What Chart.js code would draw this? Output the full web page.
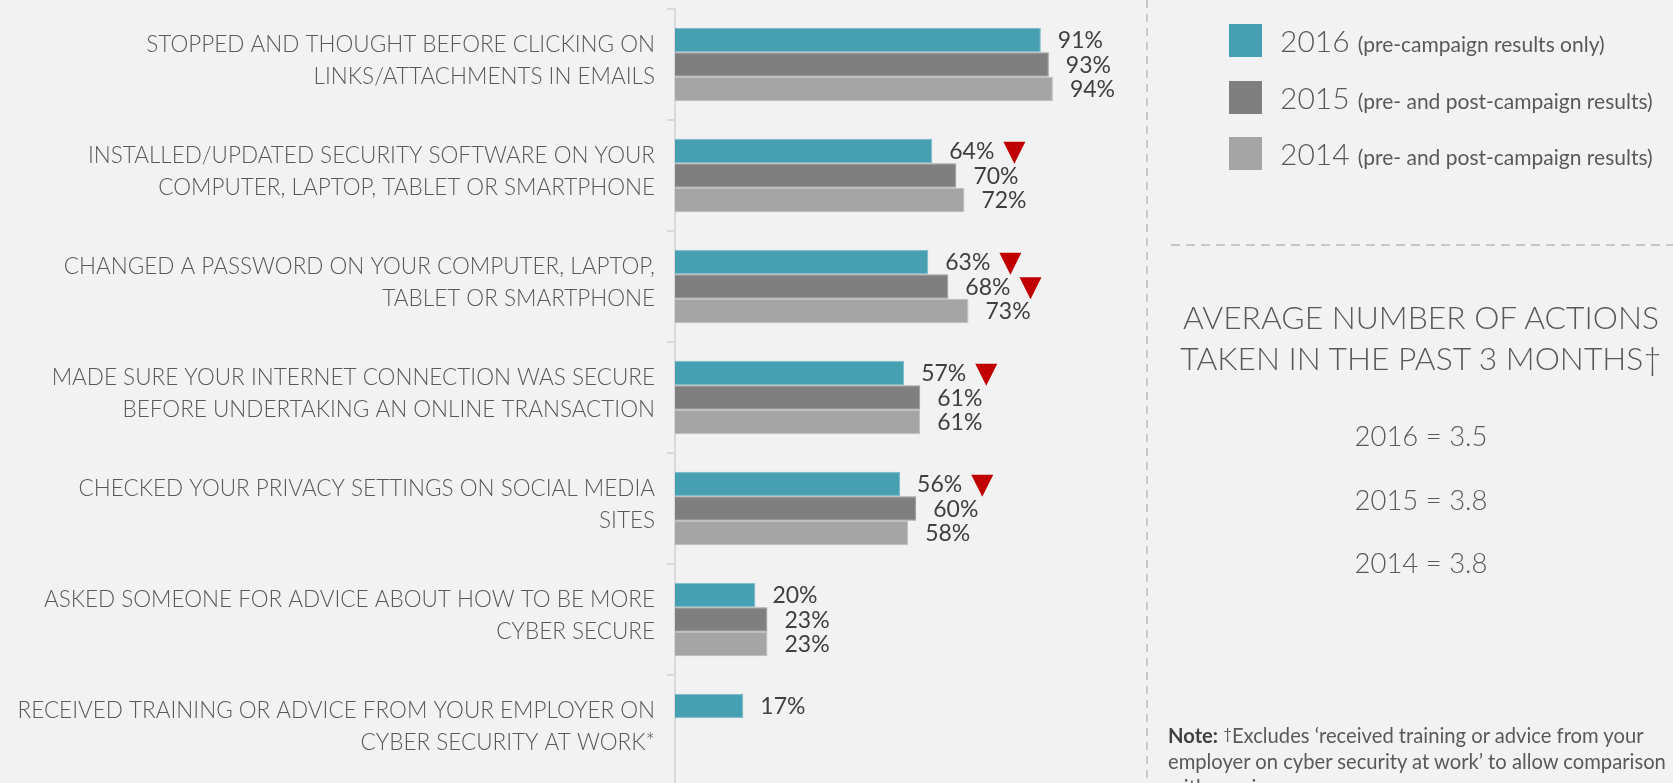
<!DOCTYPE html>
<html>
<head>
<meta charset="utf-8">
<script src="https://cdn.jsdelivr.net/npm/chart.js@4.4.1/dist/chart.umd.min.js"></script>
<style>
  html, body { margin: 0; padding: 0; }
  body {
    width: 1673px; height: 783px; overflow: hidden; position: relative;
    background: #f2f2f2; font-family: Lato, "Open Sans", sans-serif; color: #595959;
  }
  #chartBox { position: absolute; left: 0; top: 0; width: 1147px; height: 786px; }
  .abs { position: absolute; white-space: nowrap; }
  .swatch { position: absolute; width: 33px; height: 33px; }
  .legText { font-size: 30px; font-weight: 300; line-height: 34px; }
  .legText small { font-size: 21px; font-weight: 400; }
  .avgTitle { font-size: 31.8px; font-weight: 300; line-height: 41px; text-align: center; }
  .avgVal { font-size: 27.5px; font-weight: 300; text-align: center; width: 300px; }
  .note { font-size: 20.2px; line-height: 26px; }
  .note b { color: #404040; }
</style>
</head>
<body>
<div id="chartBox"><canvas id="actions"></canvas></div>

<svg class="abs" style="left:0;top:0" width="1673" height="783">
  <line x1="1147" y1="0" x2="1147" y2="783" stroke="#c8c8c8" stroke-width="2" stroke-dasharray="8 6"/>
  <line x1="1171" y1="245" x2="1673" y2="245" stroke="#c8c8c8" stroke-width="2" stroke-dasharray="9 6"/>
</svg>

<div id="legend"></div>

<div class="abs avgTitle" style="left:1171px;top:297px;width:500px">AVERAGE NUMBER OF ACTIONS<br>TAKEN IN THE PAST 3 MONTHS†</div>
<div id="averages"></div>

<div class="abs note" style="left:1168px;top:720px">
  <b>Note:</b> <span style="font-size:15px;vertical-align:4px">†</span>Excludes ‘received training or advice from your<br>
  employer on cyber security at work’ to allow comparison<br>
  with previous years
</div>

<script>
const categories = [
  ['STOPPED AND THOUGHT BEFORE CLICKING ON', 'LINKS/ATTACHMENTS IN EMAILS'],
  ['INSTALLED/UPDATED SECURITY SOFTWARE ON YOUR', 'COMPUTER, LAPTOP, TABLET OR SMARTPHONE'],
  ['CHANGED A PASSWORD ON YOUR COMPUTER, LAPTOP,', 'TABLET OR SMARTPHONE'],
  ['MADE SURE YOUR INTERNET CONNECTION WAS SECURE', 'BEFORE UNDERTAKING AN ONLINE TRANSACTION'],
  ['CHECKED YOUR PRIVACY SETTINGS ON SOCIAL MEDIA', 'SITES'],
  ['ASKED SOMEONE FOR ADVICE ABOUT HOW TO BE MORE', 'CYBER SECURE'],
  ['RECEIVED TRAINING OR ADVICE FROM YOUR EMPLOYER ON', 'CYBER SECURITY AT WORK*']
];

const values2016 = [91, 64, 63, 57, 56, 20, 17];
const values2015 = [93, 70, 68, 61, 60, 23, null];
const values2014 = [94, 72, 73, 61, 58, 23, null];

// significant drop vs. previous year (red arrow next to the label)
const drop2016 = [false, true, true, true, true, false, false];
const drop2015 = [false, false, true, false, false, false, false];
const drop2014 = [false, false, false, false, false, false, false];

const seriesNames = ['2016', '2015', '2014'];
const seriesNotes = ['(pre-campaign results only)', '(pre- and post-campaign results)', '(pre- and post-campaign results)'];
const seriesColors = ['#479fb2', '#7f7f7f', '#a5a5a5'];
const seriesBorders = ['#7ab9c7', '#9a9a9a', '#bdbdbd'];

const averageYears = ['2016', '2015', '2014'];
const averageValues = ['3.5', '3.8', '3.8'];

// legend + averages on the right
const legend = document.getElementById('legend');
seriesNames.forEach((name, i) => {
  const top = 24 + i * 56.5;
  legend.insertAdjacentHTML('beforeend',
    `<div class="swatch" style="left:1229px;top:${top}px;background:${seriesColors[i]}"></div>` +
    `<div class="abs legText" style="left:1280px;top:${top - 1}px">${name} <small>${seriesNotes[i]}</small></div>`);
});
const averages = document.getElementById('averages');
averageYears.forEach((yr, i) => {
  averages.insertAdjacentHTML('beforeend',
    `<div class="abs avgVal" style="left:1271px;top:${419 + i * 63.5}px">${yr} = ${averageValues[i]}</div>`);
});

const valueFont = '400 23px Lato, "Open Sans", sans-serif';

// percentage labels at the end of each bar, with red arrows where a drop is flagged
const barLabels = {
  id: 'barLabels',
  afterDatasetsDraw(chart) {
    const ctx = chart.ctx;
    const drops = [drop2016, drop2015, drop2014];
    ctx.save();
    ctx.font = valueFont;
    ctx.textBaseline = 'middle';
    ctx.textAlign = 'left';
    chart.data.datasets.forEach((ds, i) => {
      const meta = chart.getDatasetMeta(i);
      meta.data.forEach((bar, j) => {
        const v = ds.data[j];
        if (v === null) return;
        const text = v + '%';
        const x = bar.x + 17;
        ctx.fillStyle = '#404040';
        ctx.fillText(text, x, bar.y + 1);
        if (drops[i][j]) {
          const tx = x + ctx.measureText(text).width + 9;
          const top = bar.y - bar.height / 2 + 3;
          ctx.fillStyle = '#c00000';
          ctx.beginPath();
          ctx.moveTo(tx, top);
          ctx.lineTo(tx + 22, top);
          ctx.lineTo(tx + 11, top + 22);
          ctx.closePath();
          ctx.fill();
        }
      });
    });
    ctx.restore();
  }
};

new Chart(document.getElementById('actions'), {
  type: 'bar',
  data: {
    labels: categories,
    datasets: [values2016, values2015, values2014].map((vals, i) => ({
      label: seriesNames[i],
      data: vals,
      backgroundColor: seriesColors[i],
      borderColor: seriesBorders[i],
      borderWidth: 1,
      categoryPercentage: 0.662,
      barPercentage: 1.0
    }))
  },
  options: {
    indexAxis: 'y',
    responsive: true,
    maintainAspectRatio: false,
    animation: false,
    layout: { padding: { top: 9, right: 70, bottom: 0, left: 0 } },
    plugins: { legend: { display: false }, tooltip: { enabled: false } },
    scales: {
      x: { min: 0, max: 100, display: false },
      y: {
        afterFit: (scale) => {
          scale.width = 675;
          scale.paddingTop = 0;
          scale.paddingBottom = 0;
        },
        border: { display: true, color: '#d9d9d9', width: 2 },
        grid: { drawOnChartArea: false, drawTicks: true, tickLength: 8, color: '#d9d9d9', lineWidth: 2, offset: true },
        ticks: {
          padding: 12,
          labelOffset: -4,
          color: '#595959',
          font: { family: 'Lato, "Open Sans", sans-serif', size: 22.5, weight: 300, lineHeight: 1.42 }
        }
      }
    }
  },
  plugins: [barLabels]
});
</script>
</body>
</html>
